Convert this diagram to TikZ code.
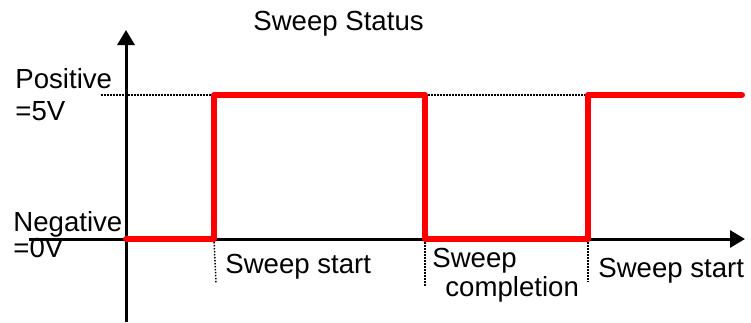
\documentclass[tikz,border=0pt]{standalone}
\usepackage{fontspec}
\setmainfont{Liberation Sans}
\usetikzlibrary{arrows.meta,positioning}

\begin{document}
\begin{tikzpicture}[x=0.5pt, y=-0.5pt,
    font=\fontsize{13.8pt}{16pt}\selectfont,
    axisline/.style={line width=1.5pt, black, -{Triangle[length=7.5pt,width=8.5pt]}},
    signal/.style={line width=3pt, red, line cap=round, line join=round},
    guide/.style={line width=0.75pt, black, dash pattern=on 0.75pt off 0.75pt},
    lbl/.style={inner sep=0pt, anchor=base west}]
    \useasboundingbox (0,0) rectangle (751,322);

    % Axes
    \coordinate (o) at (126,239);
    \coordinate (ybot) at (126,322);
    \coordinate (ytop) at (126,30);
    \coordinate (xleft) at (29,239);
    \coordinate (xright) at (745,239);
    \draw[axisline] (ybot) -- (ytop);
    \draw[axisline] (xleft) -- (xright);

    % Signal corners
    \coordinate (s1) at (214,239);
    \coordinate (s2) at (214,95);
    \coordinate (s3) at (425,95);
    \coordinate (s4) at (425,239);
    \coordinate (s5) at (588,239);
    \coordinate (s6) at (588,95);
    \coordinate (s7) at (742,95);

    % Dotted guides
    \coordinate (hl) at (101,95);
    \draw[guide] (hl) -- (s2);
    \draw[guide] (s3) -- (s6);
    \coordinate (d1) at (216,283);
    \coordinate (d2) at (425,287);
    \coordinate (d3) at (588,282);
    \draw[guide] (s1) -- (d1);
    \draw[guide] (s4) -- (d2);
    \draw[guide] (s5) -- (d3);

    % Sweep status signal
    \draw[signal] (o) -- (s1) -- (s2) -- (s3) -- (s4) -- (s5) -- (s6) -- (s7);

    % Labels
    \node[lbl] (title) at (253,30) {Sweep Status};
    \node[lbl] (pos) at (15,88) {Positive};
    \node[lbl] (pv) at (15,120) {=5V};
    \node[lbl] (neg) at (13,231) {Negative};
    \node[lbl] (nv) at (13,257) {=0V};
    \node[lbl] (start1) at (225,273) {Sweep start};
    \node[lbl] (comp1) at (432,267) {Sweep};
    \node[lbl] (comp2) at (445,296) {completion};
    \node[lbl] (start2) at (598,277) {Sweep start};
\end{tikzpicture}
\end{document}
